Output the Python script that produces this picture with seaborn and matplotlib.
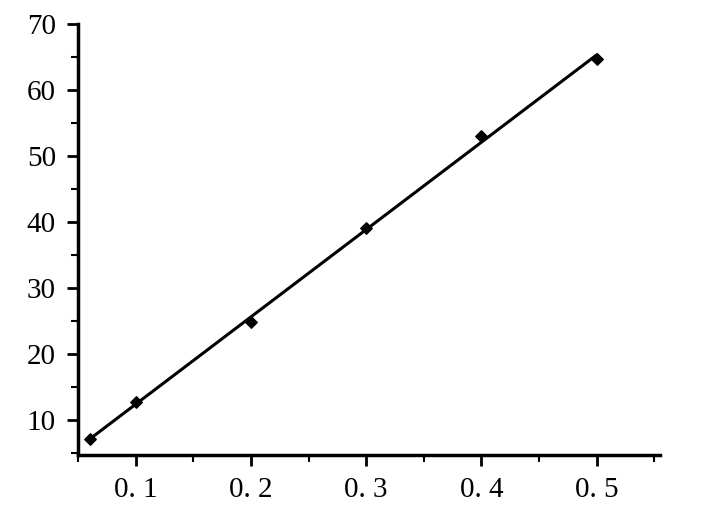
import matplotlib
matplotlib.use("Agg")
import matplotlib.pyplot as plt
import numpy as np
import pandas as pd
import seaborn as sns
from matplotlib.ticker import MultipleLocator

# data
conc = [0.06, 0.1, 0.2, 0.3, 0.4, 0.5]
signal = [7.0, 12.6, 24.8, 39.0, 53.0, 64.7]
x_ticks = [0.1, 0.2, 0.3, 0.4, 0.5]
x_tick_labels = ["0. 1", "0. 2", "0. 3", "0. 4", "0. 5"]
y_ticks = [10, 20, 30, 40, 50, 60, 70]

df = pd.DataFrame({"conc": conc, "signal": signal})

sns.set_style("ticks")
plt.rcParams["font.family"] = ["Liberation Serif", "DejaVu Serif"]

fig = plt.figure(figsize=(7.16, 5.08), dpi=100)
ax = fig.add_axes([0.109, 0.104, 0.813, 0.849])

sns.regplot(
    data=df,
    x="conc",
    y="signal",
    ci=None,
    ax=ax,
    marker="D",
    scatter_kws={"s": 34, "color": "black", "edgecolor": "black",
                 "alpha": 1, "zorder": 3},
    line_kws={"color": "black", "linewidth": 2.2},
)

ax.set_xlim(0.05, 0.555)
ax.set_ylim(4.6, 70)
ax.set_xticks(x_ticks)
ax.set_xticklabels(x_tick_labels)
ax.set_yticks(y_ticks)
ax.xaxis.set_minor_locator(MultipleLocator(0.05))
ax.yaxis.set_minor_locator(MultipleLocator(5))
ax.tick_params(axis="both", which="major", length=8, width=2, color="black",
               labelsize=21, labelcolor="black", direction="out")
ax.tick_params(axis="both", which="minor", length=5, width=1.5, color="black",
               direction="out")
ax.tick_params(axis="x", pad=8)
ax.tick_params(axis="y", pad=8)
ax.set_xlabel("")
ax.set_ylabel("")

sns.despine(ax=ax)
for side in ["left", "bottom"]:
    ax.spines[side].set_linewidth(2.5)
    ax.spines[side].set_color("black")

fig.savefig("out.png", dpi=100)
